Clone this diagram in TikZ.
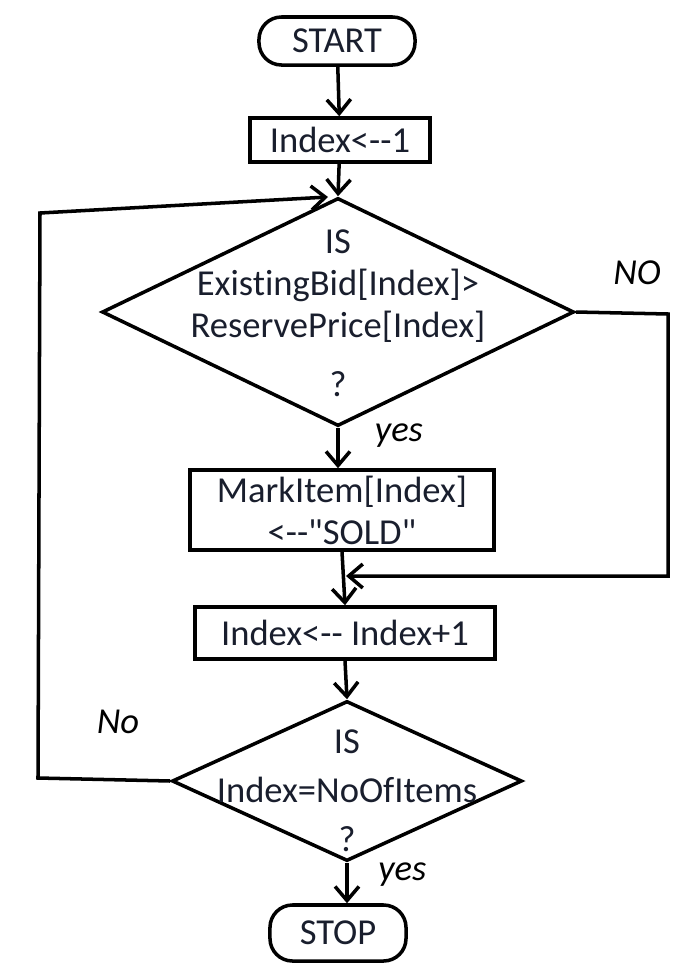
\documentclass[tikz,border=0pt]{standalone}
\usepackage{fontspec}
\setmainfont{Carlito}[Ligatures={TeXOff,NoCommon}]
\usetikzlibrary{shapes.geometric,arrows.meta}

\definecolor{textcol}{RGB}{25,30,45}

\tikzset{
  flow/.style={-{Straight Barb[length=10pt,width=17pt]}, line width=2.5pt},
  terminal/.style={draw, line width=2.5pt, rounded corners=16pt, inner sep=0pt},
  process/.style={draw, line width=2.5pt, inner sep=0pt},
  decision/.style={draw, line width=2.5pt, diamond, inner sep=0pt},
  txt/.style={font=\fontsize{26}{30}\selectfont, text=textcol, align=center},
  hand/.style={font=\fontsize{26}{30}\selectfont\itshape, inner sep=1pt}
}

\begin{document}
\begin{tikzpicture}[x=0.025cm, y=-0.025cm]

  \useasboundingbox (0,0) rectangle (672,967);

  % Start and first assignment
  \node[terminal, txt, minimum width=3.9cm, minimum height=1.2cm] (start) at (337,41) {START};
  \node[process, txt, minimum width=4.5cm, minimum height=1.1cm] (init) at (340,140) {Index<--1};

  % First question
  \node[decision, minimum width=11.8cm, minimum height=5.7cm] (q1) at (338,312) {};
  \node[txt] (q1text) at (338,313) {IS\\ExistingBid[Index]>\\ReservePrice[Index]\\[12pt]?};

  % Mark item and increment
  \node[process, txt, minimum width=7.6cm, minimum height=2cm] (mark) at (342,510) {MarkItem[Index]\\<--"SOLD"};
  \node[process, txt, minimum width=7.5cm, minimum height=1.3cm] (inc) at (345,633) {Index<-- Index+1};

  % Second question
  \node[decision, minimum width=8.75cm, minimum height=4cm] (q2) at (347,781) {};
  \node[txt] (q2text) at (347,791) {IS\\[5pt]Index=NoOfItems\\[5pt]?};

  % Stop
  \node[terminal, txt, minimum width=3.4cm, minimum height=1.4cm] (stop) at (338,933) {STOP};

  % Loop points
  \coordinate (join) at (346,576);
  \coordinate (back) at (328,197);

  % Main line
  \draw[flow] (start) -- (init);
  \draw[flow] (init) -- (q1.north);
  \draw[flow] (q1.south) -- (q1.south |- mark.north) node[hand, pos=0.2, right=24pt] (yes1) {yes};
  \draw[flow] (mark.south) -- (inc.north);
  \draw[flow] (inc.south) -- (q2.north);
  \draw[flow] (q2.south) -- (q2.south |- stop.north) node[hand, pos=0.3, right=20pt] (yes2) {yes};

  % NO branch of first question
  \draw[flow] (q1.east) -- (668,314) -- (668,576) -- (join);
  \node[hand] (no1) at (637,273) {NO};

  % No branch of second question
  \draw[flow] (q2.west) -- (38,778) -- (40,213) -- (back);
  \node[hand] (no2) at (118,722) {No};

\end{tikzpicture}
\end{document}
